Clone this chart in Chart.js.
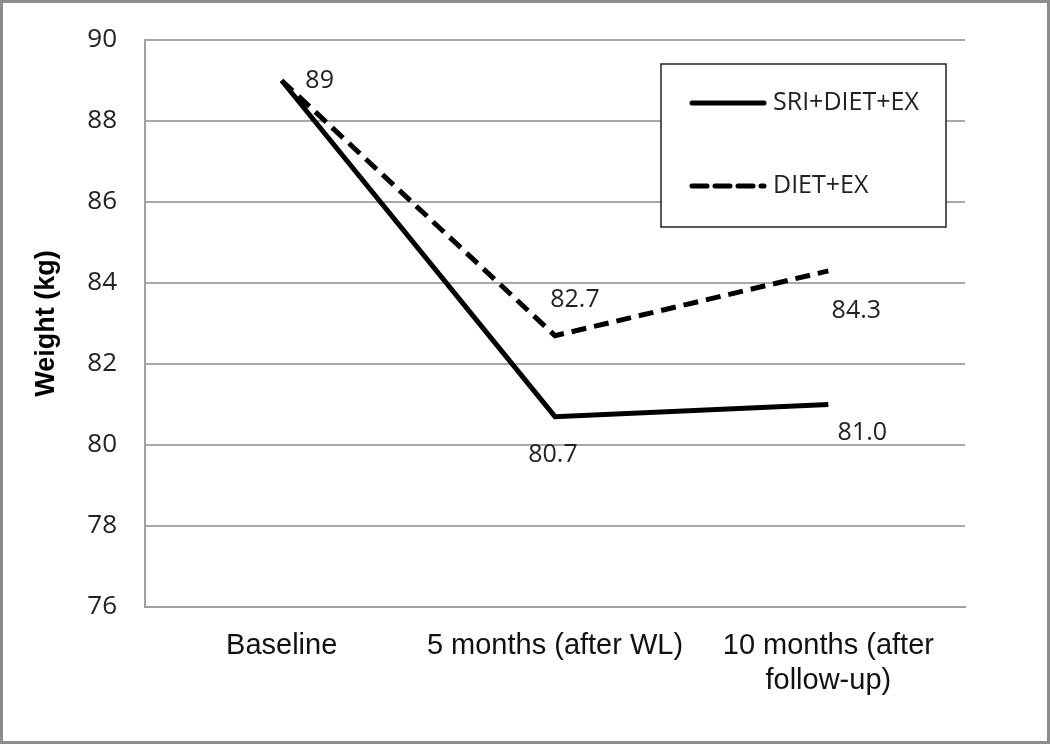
<!DOCTYPE html>
<html>
<head>
<meta charset="utf-8">
<script src="https://cdn.jsdelivr.net/npm/chart.js@4/dist/chart.umd.min.js"></script>
<style>
  html, body { margin: 0; padding: 0; background: #fff; }
  #wrap { position: relative; width: 1050px; height: 744px; box-sizing: border-box; border: 3px solid #8c8c8c; }
  canvas { position: absolute; left: -3px; top: -3px; }
</style>
</head>
<body>
<div id="wrap"><canvas id="weightChart" width="1050" height="744"></canvas></div>
<script>
// data
const timePoints = [["Baseline"], ["5 months (after WL)"], ["10 months (after", "follow-up)"]];
const sriDietEx = [89, 80.7, 81.0];
const dietEx = [89, 82.7, 84.3];
const sriLabels = ["", "80.7", "81.0"];
const dietLabels = ["89", "82.7", "84.3"];
const yTicks = [76, 78, 80, 82, 84, 86, 88, 90];

const tickFont = "'Open Sans', 'Noto Sans', sans-serif";
const arialFont = "'Liberation Sans', Arial, sans-serif";

// value labels next to the points
const valueLabels = {
    id: "valueLabels",
    afterDatasetsDraw(chart) {
        const ctx = chart.ctx;
        ctx.save();
        ctx.font = "25px " + tickFont;
        ctx.fillStyle = "#222";
        ctx.textAlign = "center";
        ctx.textBaseline = "middle";
        // offsets of each label from its point (dx, dy)
        const offs = [
            [[0, 0], [-2, 38], [34, 28]],
            [[38, 0], [20, -36], [28, 40]]
        ];
        const texts = [sriLabels, dietLabels];
        chart.data.datasets.forEach((ds, i) => {
            const meta = chart.getDatasetMeta(i);
            meta.data.forEach((pt, j) => {
                if (!texts[i][j]) return;
                ctx.fillText(texts[i][j], pt.x + offs[i][j][0], pt.y + offs[i][j][1]);
            });
        });
        ctx.restore();
    }
};

// boxed legend inside the plot
const boxLegend = {
    id: "boxLegend",
    afterDraw(chart) {
        const ctx = chart.ctx;
        ctx.save();
        ctx.fillStyle = "#fff";
        ctx.fillRect(661, 64, 285, 163);
        ctx.strokeStyle = "#222";
        ctx.lineWidth = 1.5;
        ctx.strokeRect(661, 64, 285, 163);
        const rows = [103, 186];
        chart.data.datasets.forEach((ds, i) => {
            ctx.beginPath();
            ctx.lineWidth = 5;
            ctx.lineCap = "round";
            ctx.strokeStyle = "#000";
            ctx.setLineDash(ds.borderDash || []);
            ctx.moveTo(692, rows[i]);
            ctx.lineTo(764, rows[i]);
            ctx.stroke();
            ctx.setLineDash([]);
            ctx.fillStyle = "#222";
            ctx.font = "25px " + tickFont;
            ctx.textBaseline = "middle";
            ctx.textAlign = "left";
            ctx.fillText(ds.label, 773, rows[i]);
        });
        ctx.restore();
    }
};

const config = {
    type: "line",
    data: {
        labels: timePoints,
        datasets: [
            {
                label: "SRI+DIET+EX",
                data: sriDietEx,
                borderColor: "#000",
                borderWidth: 5,
                pointRadius: 0,
                tension: 0,
                fill: false
            },
            {
                label: "DIET+EX",
                data: dietEx,
                borderColor: "#000",
                borderWidth: 5,
                borderDash: [15, 8],
                pointRadius: 0,
                tension: 0,
                fill: false
            }
        ]
    },
    options: {
        responsive: false,
        animation: false,
        layout: { padding: { top: 40, right: 85, left: 0, bottom: 0 } },
        plugins: {
            legend: { display: false },
            tooltip: { enabled: false }
        },
        scales: {
            x: {
                offset: true,
                grid: { display: false, drawTicks: false },
                border: { color: "#a0a0a0", width: 2 },
                ticks: {
                    color: "#111",
                    font: { family: arialFont, size: 29, lineHeight: 1.2 },
                    padding: 22,
                    maxRotation: 0,
                    autoSkip: false
                },
                afterFit(scale) { scale.height = 137; }
            },
            y: {
                min: 76,
                max: 90,
                afterBuildTicks(scale) { scale.ticks = yTicks.map(v => ({ value: v })); },
                grid: { color: "#a8a8a8", lineWidth: 2, drawTicks: false },
                border: { color: "#a0a0a0", width: 2 },
                ticks: {
                    color: "#222",
                    font: { family: tickFont, size: 26 },
                    padding: 28
                },
                title: {
                    display: true,
                    text: "Weight (kg)",
                    color: "#000",
                    font: { family: arialFont, size: 27, weight: "bold" },
                    padding: { top: 30, bottom: 0 }
                },
                afterFit(scale) {
                    scale.width = 145;
                    scale.paddingTop = 0;
                    scale.paddingBottom = 0;
                }
            }
        }
    },
    plugins: [valueLabels, boxLegend]
};

const weightChart = new Chart(document.getElementById("weightChart").getContext("2d"), config);
</script>
</body>
</html>
